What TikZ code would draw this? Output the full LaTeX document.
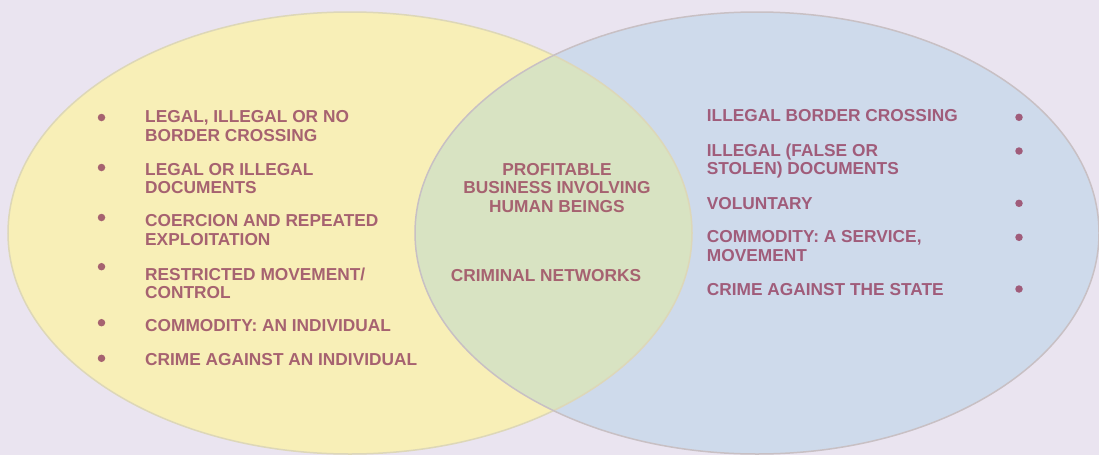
\documentclass[tikz,border=0pt]{standalone}
\usepackage{fontspec}
\setmainfont{Liberation Sans}
\definecolor{bgc}{RGB}{234,228,240}
\definecolor{yelc}{RGB}{248,239,183}
\definecolor{bluc}{RGB}{206,218,235}
\definecolor{grnc}{RGB}{216,227,194}
\definecolor{yelline}{RGB}{221,215,184}
\definecolor{bluline}{RGB}{200,192,196}
\definecolor{txtl}{RGB}{166,98,112}
\definecolor{txtr}{RGB}{160,92,122}
\newcommand{\fs}{\rule{0pt}{14pt}}
\begin{document}
\begin{tikzpicture}[x=1pt,y=-1pt,
  lbl/.style={font=\bfseries\fontsize{17.3}{18.6}\selectfont, inner sep=0pt, align=left, anchor=north west},
  lblL/.style={lbl, text=txtl},
  lblR/.style={lbl, text=txtr},
  lblC/.style={lbl, text=txtl, align=center, anchor=north},
  dotL/.style={circle, fill=txtl, inner sep=0pt, minimum size=7.5pt},
  dotR/.style={circle, fill=txtr, inner sep=0pt, minimum size=7.5pt},
  ell/.style={x radius=342pt, y radius=221pt}
]
\useasboundingbox (0,0) rectangle (1099,455);
\fill[bgc] (0,0) rectangle (1099,455);
\coordinate (cy) at (350,233);
\coordinate (cb) at (757,233);
\fill[yelc] (cy) ellipse [ell];
\fill[bluc] (cb) ellipse [ell];
\begin{scope}
  \clip (cy) ellipse [ell];
  \fill[grnc] (cb) ellipse [ell];
\end{scope}
\draw[yelline, line width=1.5pt] (cy) ellipse [ell];
\draw[bluline, line width=1.5pt] (cb) ellipse [ell];

% left list
\node[lblL] (l1) at (145,108.3) {\fs LEGAL, ILLEGAL OR NO\\BORDER CROSSING};
\node[lblL] (l2) at (145,161) {\fs LEGAL OR ILLEGAL\\DOCUMENTS};
\node[lblL] (l3) at (145,212.7) {\fs COERCION AND REPEATED\\EXPLOITATION};
\node[lblL] (l4) at (145,266) {\fs RESTRICTED MOVEMENT/\\CONTROL};
\node[lblL] (l5) at (145,317.7) {\fs COMMODITY: AN INDIVIDUAL};
\node[lblL] (l6) at (145,351) {\fs CRIME AGAINST AN INDIVIDUAL};
\node[dotL] (bl1) at (101.5,117.5) {};
\node[dotL] (bl2) at (101.5,167.5) {};
\node[dotL] (bl3) at (101.5,217.5) {};
\node[dotL] (bl4) at (101.5,266.7) {};
\node[dotL] (bl5) at (101.5,322.7) {};
\node[dotL] (bl6) at (101.5,358.3) {};

% centre
\node[lblC] (c1) at (557,161) {\fs PROFITABLE\\BUSINESS INVOLVING\\HUMAN BEINGS};
\node[lblC] (c2) at (546,267.7) {\fs CRIMINAL NETWORKS};

% right list
\node[lblR] (r1) at (706.7,107.7) {\fs ILLEGAL BORDER CROSSING};
\node[lblR] (r2) at (706.7,142) {\fs ILLEGAL (FALSE OR\\STOLEN) DOCUMENTS};
\node[lblR] (r3) at (706.7,195) {\fs VOLUNTARY};
\node[lblR] (r4) at (706.7,228.3) {\fs COMMODITY: A SERVICE,\\MOVEMENT};
\node[lblR] (r5) at (706.7,281) {\fs CRIME AGAINST THE STATE};
\node[dotR] (br1) at (1019,117.3) {};
\node[dotR] (br2) at (1019,151) {};
\node[dotR] (br3) at (1019,203.3) {};
\node[dotR] (br4) at (1019,237.3) {};
\node[dotR] (br5) at (1019,289) {};
\end{tikzpicture}
\end{document}
